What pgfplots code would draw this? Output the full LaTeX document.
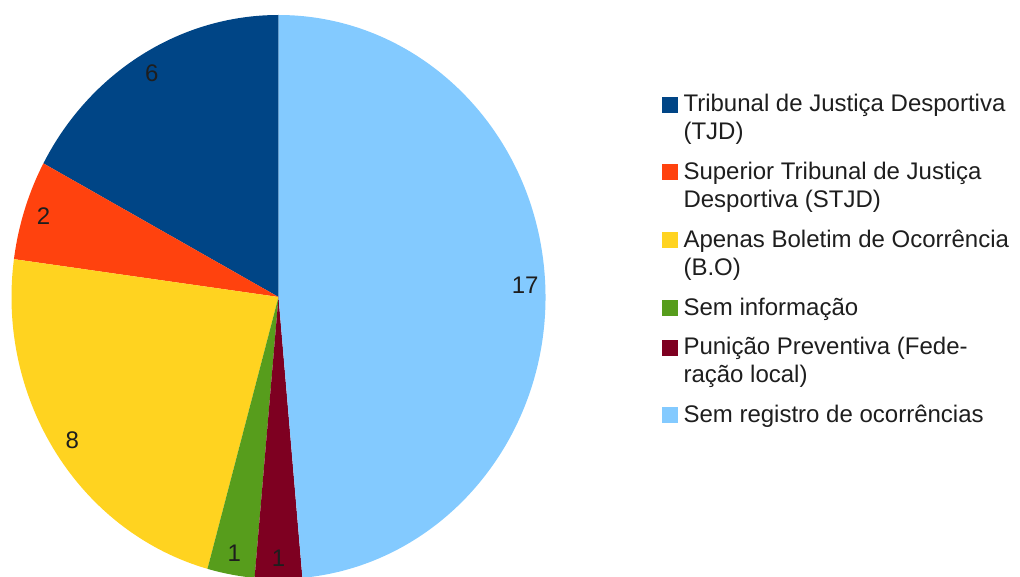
\documentclass[border=0pt]{standalone}
\usepackage{fontspec}
\setmainfont{Liberation Sans}
\usepackage{pgfplots}
\pgfplotsset{compat=1.18}
\definecolor{tjd}{HTML}{004586}
\definecolor{stjd}{HTML}{FF420E}
\definecolor{bo}{HTML}{FFD320}
\definecolor{seminf}{HTML}{579D1C}
\definecolor{pun}{HTML}{7E0021}
\definecolor{semreg}{HTML}{83CAFF}
\definecolor{txt}{HTML}{1E1E1E}
\newcommand\rx{200.25pt}
\newcommand\ry{211.5pt}
\newcommand\total{35}
% #1 = cumulative value before the wedge, #2 = value, #3 = colour
\newcommand\piewedge[3]{%
  \fill[#3] (axis cs:0,0) -- (axis cs:{cos(90+360*#1/\total)},{sin(90+360*#1/\total)})
    arc[start angle={90+360*#1/\total}, end angle={90+360*(#1+#2)/\total}, x radius=\rx, y radius=\ry] -- cycle;
}
\newcommand\pielabel[2]{%
  \node[font=\fontsize{18}{21}\selectfont, text=txt, inner sep=0pt]
    at (axis cs:{0.925*cos(90+360*(#1+#2/2)/\total)},{0.925*sin(90+360*(#1+#2/2)/\total)}) {#2};
}
% legend square; #2 = vertical offset (number of extra text lines below the first)
\newcommand\lsquare[2]{\addlegendimage{legend image code/.code={\fill[#1] (0pt,{#2*21pt}) rectangle (11.25pt,{#2*21pt+11.25pt});}}}
\begin{document}
\begin{tikzpicture}
\begin{axis}[
  at={(0pt,0pt)}, anchor=south west,
  x=200.25pt, y=211.5pt,
  xmin=-1.0431, xmax=2.7772, ymin=-0.98936, ymax=1.05319,
  enlargelimits=false, hide axis, clip=false,
  legend cell align=left,
  legend style={at={(rel axis cs:0.649,0.8396)}, anchor=north west,
    draw=none, fill=none, inner sep=0pt, outer sep=0pt,
    row sep=13.6pt, column sep=4.5pt,
    cells={anchor=base west},
    nodes={inner sep=0pt, align=left, text=txt, font=\fontsize{18}{21}\selectfont}},
]
\piewedge{0}{6}{tjd}
\piewedge{6}{2}{stjd}
\piewedge{8}{8}{bo}
\piewedge{16}{1}{seminf}
\piewedge{17}{1}{pun}
\piewedge{18}{17}{semreg}
\pielabel{0}{6}
\pielabel{6}{2}
\pielabel{8}{8}
\pielabel{16}{1}
\pielabel{17}{1}
\pielabel{18}{17}
\lsquare{tjd}{1}
\addlegendentry{\strut Tribunal de Justiça Desportiva\\\strut (TJD)}
\lsquare{stjd}{1}
\addlegendentry{\strut Superior Tribunal de Justiça\\\strut Desportiva (STJD)}
\lsquare{bo}{1}
\addlegendentry{\strut Apenas Boletim de Ocorrência\\\strut (B.O)}
\lsquare{seminf}{0}
\addlegendentry{\strut Sem informação}
\lsquare{pun}{1}
\addlegendentry{\strut Punição Preventiva (Fede-\\\strut ração local)}
\lsquare{semreg}{0}
\addlegendentry{\strut Sem registro de ocorrências}
\end{axis}
\pgfresetboundingbox
\useasboundingbox (0pt,0pt) rectangle (765pt,432pt);
\end{tikzpicture}
\end{document}
